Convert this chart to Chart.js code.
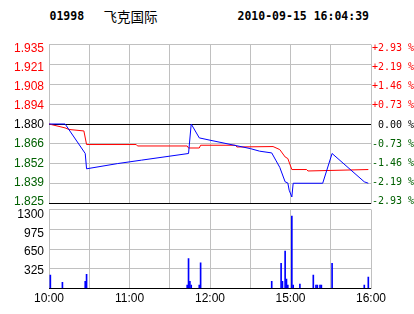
<!DOCTYPE html>
<html>
<head>
<meta charset="utf-8">
<script src="https://cdn.jsdelivr.net/npm/chart.js@4.4.1/dist/chart.umd.min.js"></script>
<style>
  body { margin: 0; background: #fff; }
  #wrap { position: relative; width: 414px; height: 314px; overflow: hidden; }
  .hd { position: absolute; line-height: 16px; white-space: pre; color: #000; }
  .mono { top: 9px; font: bold 11.5px 'DejaVu Sans Mono', monospace; }
  .cjk { top: 6px; font: 13.5px 'Noto Sans CJK SC', sans-serif; }
  canvas { position: absolute; left: 0; }
</style>
</head>
<body>
<div id="wrap">
  <div class="hd mono" style="left:49.5px">01998</div>
  <div class="hd cjk" style="left:103.5px">飞克国际</div>
  <div class="hd mono" style="left:237.5px">2010-09-15 16:04:39</div>
  <canvas id="priceChart" width="414" height="212" style="top:0"></canvas>
  <canvas id="volChart" width="414" height="114" style="top:200px"></canvas>
</div>
<script>
// previous close, price axis ticks and labels
const prevClose = 1.88;
const priceTicks = [1.825, 1.83875, 1.8525, 1.86625, 1.88, 1.89375, 1.9075, 1.92125, 1.935];
const priceLabels = ['1.825', '1.839', '1.852', '1.866', '1.880', '1.894', '1.908', '1.921', '1.935'];
const pctLabels = ['-2.93 %', '-2.19 %', '-1.46 %', '-0.73 %', ' 0.00 %', '+0.73 %', '+1.46 %', '+2.19 %', '+2.93 %'];

// minutes since 10:00 (trading minutes, lunch break skipped)
const timeTicks = [0, 30, 60, 90, 120, 150, 180, 210, 240];
const timeLabels = ['10:00', '', '11:00', '', '12:00', '', '15:00', '', '16:00'];

// price line (blue)
const priceTimes = [0, 12, 27, 28, 51, 69, 104, 106, 112, 120, 150, 157, 166, 169, 172, 176, 178, 179, 181, 182, 204, 211, 235, 238];
const priceValues = [1.880, 1.880, 1.8596, 1.849, 1.8526, 1.855, 1.8596, 1.880, 1.8704, 1.8688, 1.863, 1.8612, 1.860, 1.855, 1.850, 1.840, 1.8392, 1.8342, 1.8295, 1.839, 1.839, 1.8596, 1.840, 1.839];

// average price line (red)
const avgTimes = [0, 12, 15, 26, 28, 65, 66, 103, 104, 112, 113, 139, 140, 167, 172, 176, 178, 181, 192, 193, 238];
const avgValues = [1.880, 1.8773, 1.8762, 1.8752, 1.8658, 1.8658, 1.8648, 1.8648, 1.8634, 1.8634, 1.8653, 1.8653, 1.8641, 1.8644, 1.8623, 1.8572, 1.8561, 1.8485, 1.8485, 1.8475, 1.8485];

// volume
const volTicks = [0, 325, 650, 975, 1300];
const volLabels = ['', '325', '650', '975', '1300'];
const volTimes = [1, 10, 27, 28, 103, 104, 105, 106, 112, 113, 166, 173, 174, 176, 177, 178, 181, 182, 187, 197, 199, 200, 202, 203, 211, 235, 238];
const volValues = [220, 100, 120, 235, 55, 494, 120, 55, 55, 421, 120, 416, 120, 614, 153, 55, 1190, 55, 71, 219, 55, 55, 55, 55, 416, 55, 186];

const sans = "'Liberation Sans', Arial, sans-serif";
const gridGray = '#c0c0c0';
const upColor = '#ff0000';
const downColor = '#006000';

function pts(xs, ys) { return xs.map((x, i) => ({ x: x, y: ys[i] })); }
function setTicks(list) { return function (s) { s.ticks = list.map(v => ({ value: v })); }; }
function fixSize(w, h) {
  return function (s) {
    if (w !== null) s.width = w;
    if (h !== null) s.height = h;
    s.paddingTop = 0; s.paddingBottom = 0; s.paddingLeft = 0; s.paddingRight = 0;
  };
}
function priceColor(ctx) {
  const v = ctx.tick ? ctx.tick.value : prevClose;
  if (Math.abs(v - prevClose) < 1e-9) return '#000';
  return v > prevClose ? upColor : downColor;
}

// labels sit a few px inside the top/bottom grid lines
const pMin = priceTicks[0], pMax = priceTicks[priceTicks.length - 1];
const pPad = (pMax - pMin) * 3 / (159 - 6);
const vMax = volTicks[volTicks.length - 1];
const vLabelMax = vMax * 79 / 75;

new Chart(document.getElementById('priceChart'), {
  type: 'line',
  data: {
    datasets: [
      { label: '价格', data: pts(priceTimes, priceValues), borderColor: '#0000ff', borderWidth: 1, pointRadius: 0, tension: 0 },
      { label: '均价', data: pts(avgTimes, avgValues), borderColor: '#ff0000', borderWidth: 1, pointRadius: 0, tension: 0 }
    ]
  },
  options: {
    responsive: false,
    animation: false,
    events: [],
    layout: { padding: { top: 44.5, bottom: 8.5, left: 0, right: 0 } },
    plugins: { legend: { display: false }, tooltip: { enabled: false } },
    scales: {
      x: {
        type: 'linear', min: 0, max: 240, bounds: 'data',
        afterBuildTicks: setTicks(timeTicks),
        ticks: { display: false },
        grid: { color: gridGray, drawTicks: false },
        border: { display: false },
        afterFit: fixSize(null, 0)
      },
      y: {
        position: 'left', min: pMin, max: pMax, bounds: 'data',
        afterBuildTicks: setTicks(priceTicks),
        ticks: { display: false },
        grid: {
          drawTicks: false,
          color: c => (c.tick && (Math.abs(c.tick.value - prevClose) < 1e-9 || c.tick.value === pMin)) ? '#000' : gridGray
        },
        border: { display: false },
        afterFit: fixSize(0, null)
      },
      yl: {
        position: 'left', min: pMin - pPad, max: pMax + pPad, bounds: 'data',
        afterBuildTicks: setTicks(priceTicks),
        grid: { display: false, drawTicks: false },
        border: { display: false },
        ticks: { padding: 5, labelOffset: 1, font: { family: sans, size: 12 }, color: priceColor, callback: (v, i) => priceLabels[i] },
        afterFit: fixSize(49, null)
      },
      yr: {
        position: 'right', min: pMin - pPad, max: pMax + pPad, bounds: 'data',
        afterBuildTicks: setTicks(priceTicks),
        grid: { display: false, drawTicks: false },
        border: { display: false },
        ticks: { padding: 1, labelOffset: 1, font: { family: "'DejaVu Sans Mono', monospace", size: 10 }, color: priceColor, callback: (v, i) => pctLabels[i] },
        afterFit: fixSize(43, null)
      }
    }
  }
});

new Chart(document.getElementById('volChart'), {
  type: 'bar',
  data: {
    datasets: [
      { label: '成交量', data: pts(volTimes, volValues), backgroundColor: '#0000ff', barThickness: 1, borderWidth: 0 }
    ]
  },
  options: {
    responsive: false,
    animation: false,
    events: [],
    layout: { padding: { top: 9.5, bottom: 0, left: 0, right: 43 } },
    plugins: { legend: { display: false }, tooltip: { enabled: false } },
    scales: {
      x: {
        type: 'linear', min: 0, max: 240, offset: false, bounds: 'data',
        afterBuildTicks: setTicks(timeTicks),
        grid: { color: gridGray, drawTicks: false, offset: false },
        border: { display: false },
        ticks: { padding: 2.5, autoSkip: false, maxRotation: 0, font: { family: sans, size: 12 }, color: '#000', callback: (v, i) => timeLabels[i] },
        afterFit: fixSize(null, 25.5)
      },
      y: {
        position: 'left', min: 0, max: vMax, bounds: 'data',
        afterBuildTicks: setTicks(volTicks),
        ticks: { display: false },
        grid: { drawTicks: false, color: c => (c.tick && c.tick.value === 0) ? '#000' : gridGray },
        border: { display: false },
        afterFit: fixSize(0, null)
      },
      yl: {
        position: 'left', min: 0, max: vLabelMax, bounds: 'data',
        afterBuildTicks: setTicks(volTicks),
        grid: { display: false, drawTicks: false },
        border: { display: false },
        ticks: { padding: 5, labelOffset: 1, font: { family: sans, size: 12 }, color: '#000', callback: (v, i) => volLabels[i] },
        afterFit: fixSize(49, null)
      }
    }
  }
});
</script>
</body>
</html>
